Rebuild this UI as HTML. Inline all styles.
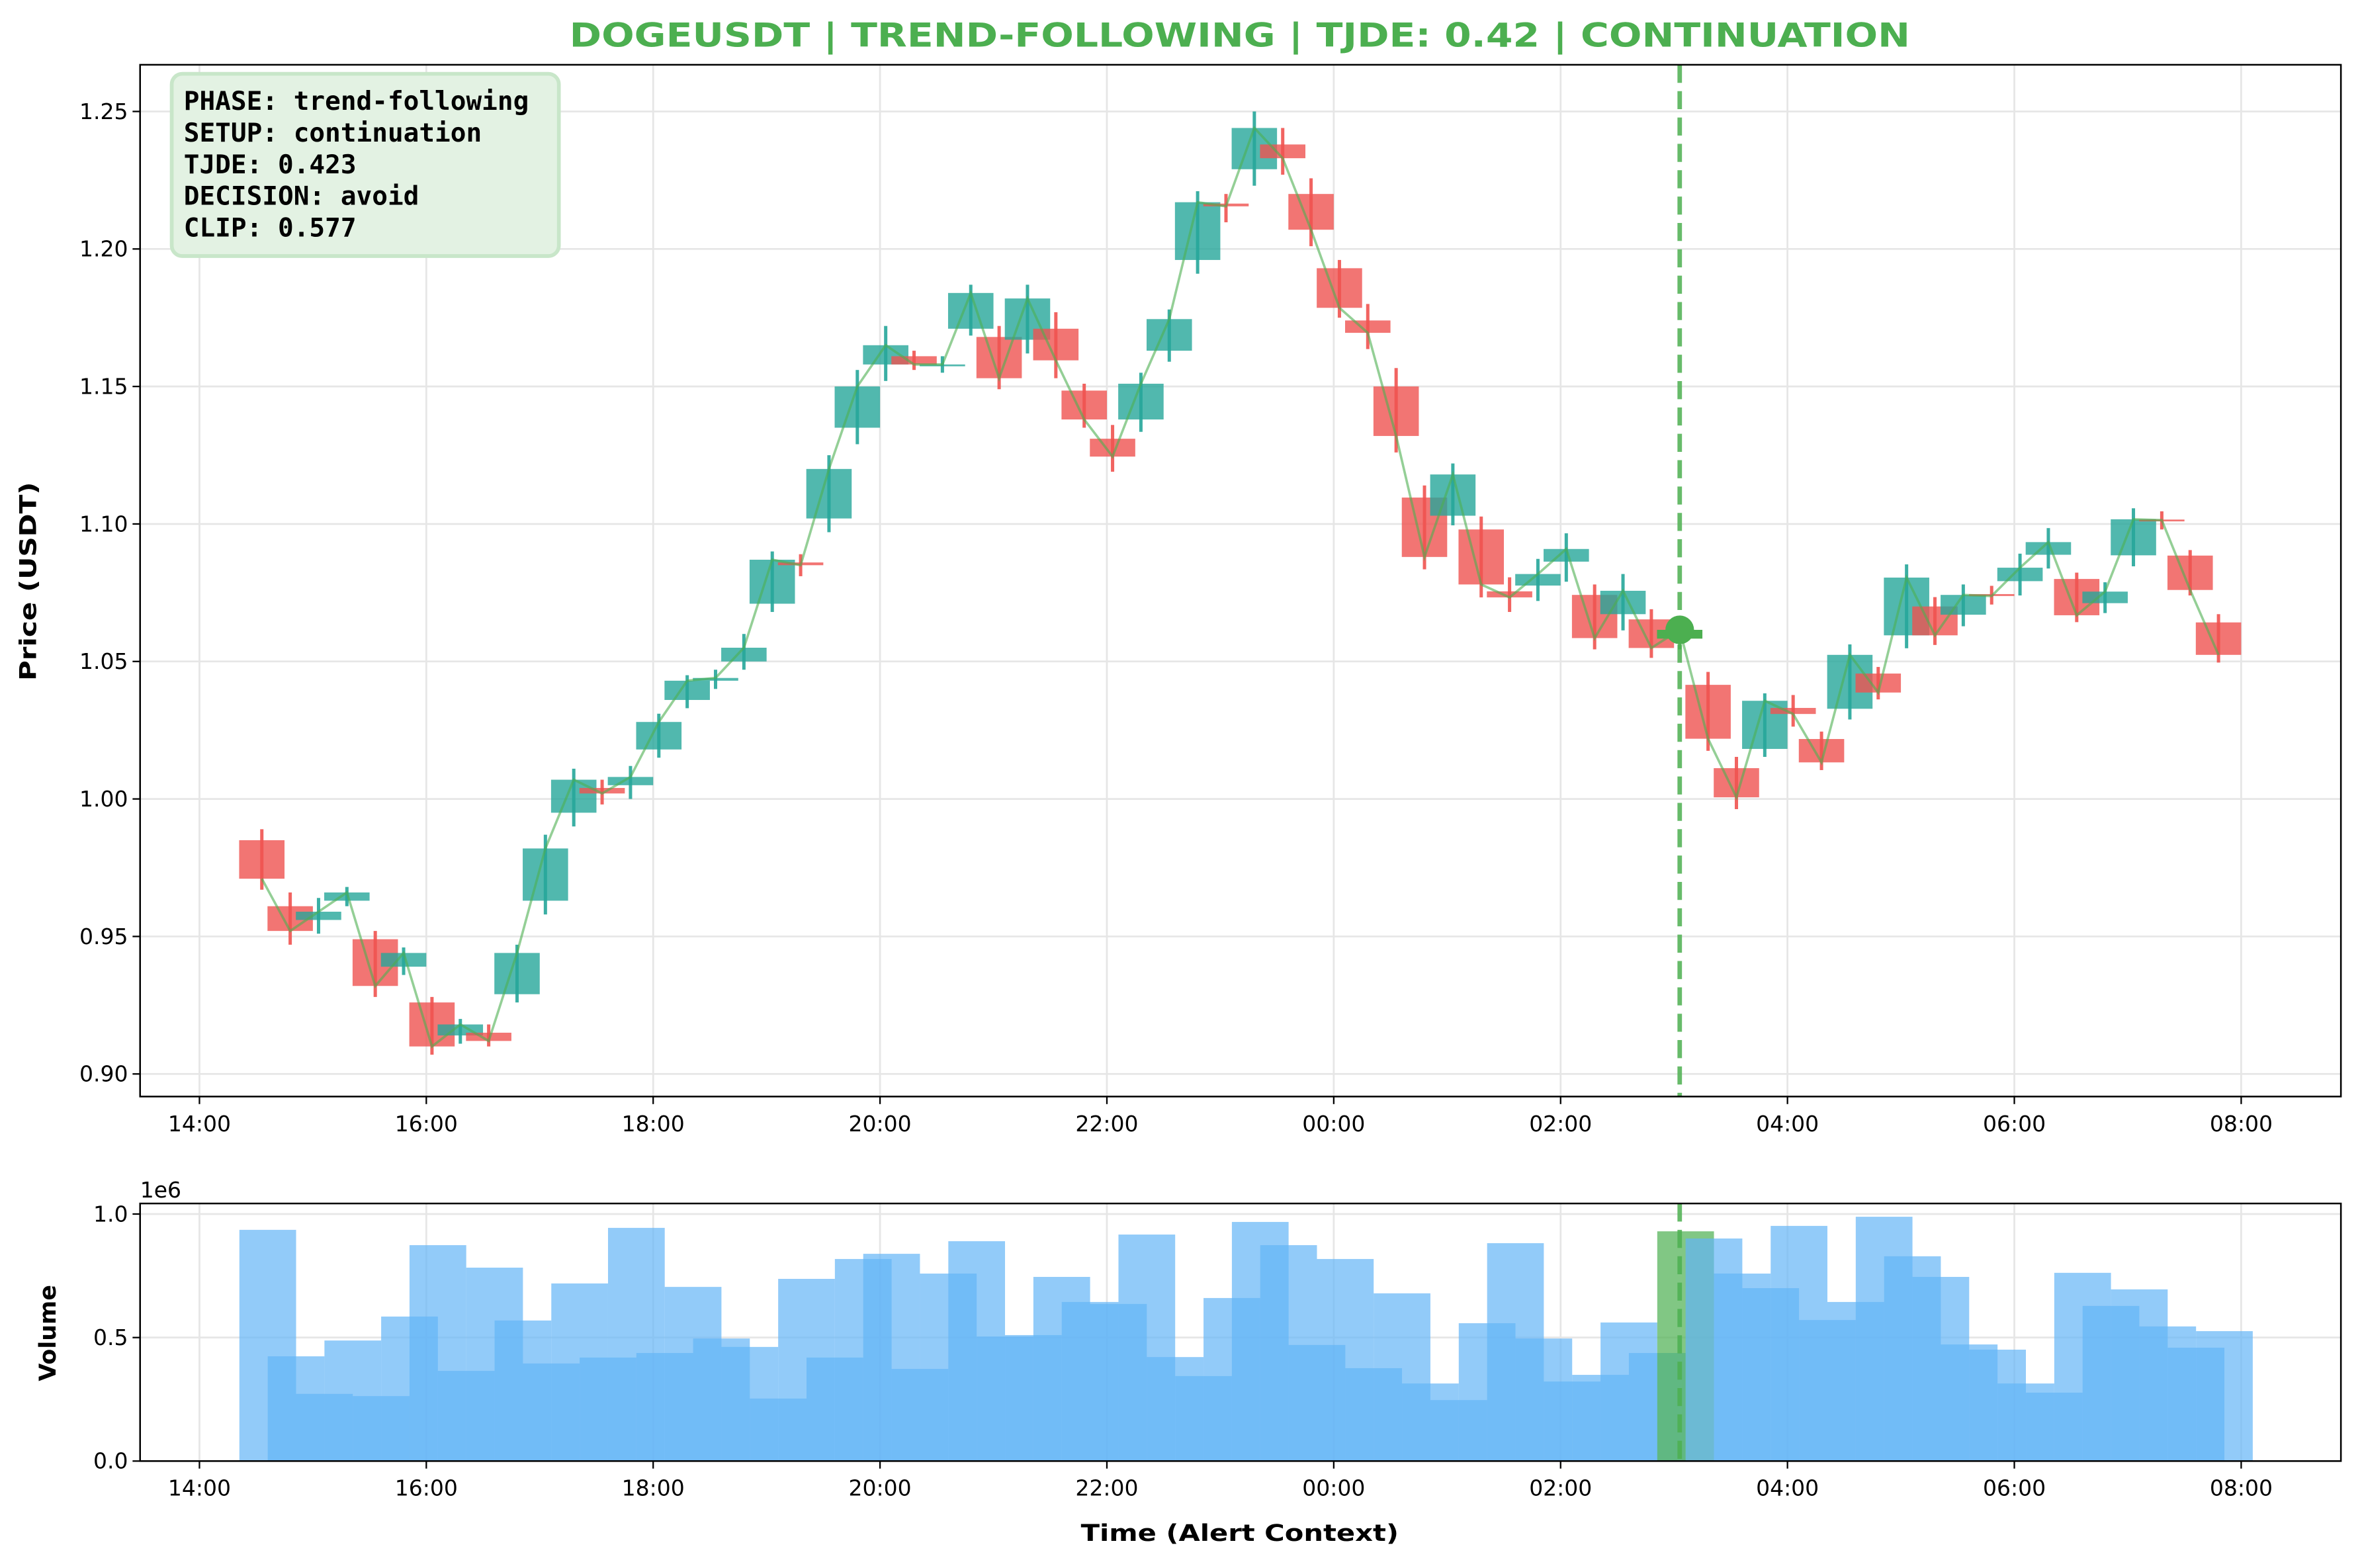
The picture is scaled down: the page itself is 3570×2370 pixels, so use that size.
<!DOCTYPE html>
<html><head><meta charset="utf-8"><title>DOGEUSDT chart</title>
<style>
html,body{margin:0;padding:0;background:#fff;}
svg{display:block;}
</style></head>
<body>
<svg id="chart" xmlns="http://www.w3.org/2000/svg" width="3570" height="2370" viewBox="0 0 1568 1041" preserveAspectRatio="none" font-family="DejaVu Sans, Liberation Sans, sans-serif">
<rect x="0" y="0" width="1568" height="1041" fill="#ffffff"/>
<text x="823" y="31" text-anchor="middle" font-size="22" font-weight="bold" fill="#4caf50" textLength="890" lengthAdjust="spacingAndGlyphs">DOGEUSDT | TREND-FOLLOWING | TJDE: 0.42 | CONTINUATION</text>
<g id="main"></g>
<g id="vol"></g>
<text transform="translate(24,386) rotate(-90)" text-anchor="middle" font-size="15.3" font-weight="bold" textLength="132" lengthAdjust="spacingAndGlyphs">Price (USDT)</text>
<text transform="translate(37,885) rotate(-90)" text-anchor="middle" font-size="15.3" font-weight="bold">Volume</text>
<text x="823" y="1023" text-anchor="middle" font-size="15.3" font-weight="bold" textLength="211" lengthAdjust="spacingAndGlyphs">Time (Alert Context)</text>
<text x="93" y="795" font-size="14.5">1e6</text>
<g>
<rect x="114" y="49" width="257" height="121" rx="7" fill="#e3f2e3" stroke="#c8e6c9" stroke-width="2.5"/>
<g font-family="DejaVu Sans Mono, Liberation Mono, monospace" font-weight="bold" font-size="17.3" fill="#000">
<text x="122" y="73">PHASE: trend-following</text>
<text x="122" y="94">SETUP: continuation</text>
<text x="122" y="115">TJDE: 0.423</text>
<text x="122" y="136">DECISION: avoid</text>
<text x="122" y="157">CLIP: 0.577</text>
</g>
</g>
</svg>
<script>
const opens=[.985,.961,.956,.963,.949,.939,.926,.914,.915,.929,.963,.995,1.004,1.005,1.018,1.036,1.043,1.050,1.071,1.086,1.102,1.135,1.158,1.161,1.1575,1.171,1.168,1.167,1.171,1.1485,1.131,1.138,1.163,1.196,1.2165,1.229,1.238,1.220,1.193,1.174,1.150,1.1096,1.103,1.098,1.0755,1.0776,1.0863,1.0742,1.0672,1.0653,1.0583,1.0415,1.0112,1.0182,1.0331,1.0218,1.0328,1.0456,1.0595,1.07,1.067,1.0745,1.0792,1.0888,1.08,1.0712,1.0886,1.1016,1.0885,1.0642];
const highs=[.989,.966,.964,.968,.952,.946,.928,.920,.918,.947,.987,1.011,1.007,1.012,1.031,1.045,1.047,1.060,1.090,1.089,1.125,1.156,1.172,1.163,1.161,1.187,1.172,1.187,1.177,1.151,1.136,1.155,1.178,1.221,1.220,1.250,1.244,1.2257,1.196,1.180,1.1567,1.114,1.122,1.1027,1.0806,1.0873,1.0966,1.078,1.0818,1.069,1.0663,1.0462,1.0153,1.0384,1.0378,1.0245,1.0562,1.048,1.0853,1.0734,1.078,1.0775,1.0892,1.0985,1.0823,1.0788,1.1057,1.1046,1.0905,1.0672];
const lows=[.967,.947,.951,.961,.928,.936,.907,.911,.910,.926,.958,.990,.998,1.000,1.015,1.033,1.040,1.047,1.068,1.081,1.097,1.129,1.152,1.156,1.155,1.1685,1.149,1.162,1.153,1.135,1.119,1.1335,1.159,1.191,1.2097,1.223,1.227,1.201,1.175,1.1636,1.126,1.0835,1.0995,1.0733,1.068,1.072,1.079,1.0544,1.0613,1.0513,1.0544,1.0175,.9963,1.0153,1.0263,1.0105,1.0289,1.0362,1.0548,1.056,1.0628,1.0707,1.074,1.0838,1.0643,1.0676,1.0846,1.098,1.074,1.0496];
const closes=[.971,.952,.959,.966,.932,.944,.910,.918,.912,.944,.982,1.007,1.002,1.008,1.028,1.043,1.044,1.055,1.087,1.085,1.120,1.150,1.165,1.158,1.158,1.184,1.153,1.182,1.1595,1.138,1.1245,1.151,1.1745,1.217,1.2155,1.244,1.233,1.207,1.1786,1.1695,1.132,1.088,1.118,1.078,1.0733,1.0818,1.0909,1.0585,1.0757,1.0549,1.0615,1.0219,1.0006,1.0357,1.0309,1.0133,1.0524,1.0387,1.0805,1.0595,1.0742,1.0738,1.0841,1.0934,1.0668,1.0754,1.1017,1.1014,1.076,1.0524];
const volumes=[.936,.424,.272,.488,.263,.585,.874,.365,.783,.569,.395,.719,.419,.944,.4375,.705,.496,.462,.253,.7375,.419,.818,.839,.373,.759,.890,.504,.51,.7455,.644,.636,.917,.421,.344,.66,.968,.874,.47,.818,.376,.679,.314,.247,.558,.882,.496,.322,.349,.561,.4375,.930,.901,.759,.70,.952,.571,.644,.989,.829,.7455,.472,.451,.314,.277,.762,.628,.695,.545,.459,.526];
const priceTicks=[0.90,0.95,1.00,1.05,1.10,1.15,1.20,1.25];
const volTicks=[0,0.5,1.0];
const timeTicks=["14:00","16:00","18:00","20:00","22:00","00:00","02:00","04:00","06:00","08:00"];
const alertIndex=50;

const NS="http://www.w3.org/2000/svg";
const AX={l:93,r:1554,t:43,b:728};
const VX={l:93,r:1554,t:799,b:970};
const candleTime=i=>0.55+0.25*i;
const xOf=t=>132.4+75.3*t;
const yP=p=>713-(p-0.90)*1825.7;
const yV=v=>970-v*164;
function mk(tag,attrs,parent){const e=document.createElementNS(NS,tag);for(const k in attrs)e.setAttribute(k,attrs[k]);parent.appendChild(e);return e;}

const main=document.getElementById('main');
const vol=document.getElementById('vol');

function drawFrame(g,A,ticks,yf,fmt,prefix){
  ticks.forEach((v,i)=>{
    const l=mk('line',{x1:A.l,x2:A.r,y1:yf(v),y2:yf(v),stroke:'#e6e6e6','stroke-width':1.2},g);
    
    
  });
  timeTicks.forEach((lab,i)=>{
    const x=xOf(2*i);
    const l=mk('line',{x1:x,x2:x,y1:A.t,y2:A.b,stroke:'#e6e6e6','stroke-width':1.2},g);
    
    
    const tk=mk('line',{x1:x,x2:x,y1:A.b,y2:A.b+5,stroke:'#000','stroke-width':1},g);
    
    
    const t=mk('text',{x:x,y:A.b+23,'text-anchor':'middle','font-size':14.5},g);
    
    
    t.textContent=lab;
  });
  ticks.forEach(v=>{
    const y=yf(v);
    const tk=mk('line',{x1:A.l-5,x2:A.l,y1:y,y2:y,stroke:'#000','stroke-width':1},g);
    
    
    const t=mk('text',{x:A.l-8,y:y+5,'text-anchor':'end','font-size':14.5},g);
    
    
    t.textContent=fmt(v);
  });
}
drawFrame(main,AX,priceTicks,yP,v=>v.toFixed(2),'price');
drawFrame(vol,VX,volTicks,yV,v=>v.toFixed(1),'volume');

volumes.forEach((v,i)=>{
  const t=candleTime(i);
  const x=xOf(t-0.198), w=xOf(0.5)-xOf(0);
  const r=mk('rect',{x:x,y:yV(v),width:w,height:yV(0)-yV(v),fill:i===alertIndex?'#4caf50':'#64b5f6','fill-opacity':0.7},vol);
  
  
});

const bw=xOf(0.4)-xOf(0);
opens.forEach((o,i)=>{
  const c=closes[i], x=xOf(candleTime(i));
  const up=c>=o;
  let col=up?'#26a69a':'#ef5350', op=0.8;
  if(i===alertIndex){col='#4caf50';op=1;}
  const g=mk('g',{},main);
  
  
  const top=yP(Math.max(o,c)), bot=yP(Math.min(o,c));
  const b=mk('rect',{x:x-bw/2,y:top,width:bw,height:Math.max(bot-top,1.2),fill:col,'fill-opacity':op},g);
  
  
  const wk=mk('rect',{x:x-1.1,y:yP(highs[i]),width:2.2,height:yP(lows[i])-yP(highs[i]),fill:col,'fill-opacity':0.9},g);
  
  
});

const pts=closes.map((c,i)=>xOf(candleTime(i)).toFixed(2)+','+yP(c).toFixed(2)).join(' ');
const pl=mk('polyline',{points:pts,fill:'none',stroke:'#4caf50','stroke-opacity':0.6,'stroke-width':1.6},main);



const ax=xOf(candleTime(alertIndex));
[[AX],[VX]].forEach(([A],k)=>{
  const l=mk('line',{x1:ax,x2:ax,y1:A.t,y2:A.b,stroke:'#4caf50','stroke-opacity':0.85,'stroke-width':3,'stroke-dasharray':'12 5.5'},k?vol:main);
  
  
});
const mkr=mk('circle',{cx:ax,cy:yP(closes[alertIndex]),r:9.5,fill:'#4caf50'},main);



[[AX,main],[VX,vol]].forEach(([A,g],k)=>{
  const f=mk('rect',{x:A.l,y:A.t,width:A.r-A.l,height:A.b-A.t,fill:'none',stroke:'#000','stroke-width':1.1},g);
  
  
});
</script>
</body></html>
